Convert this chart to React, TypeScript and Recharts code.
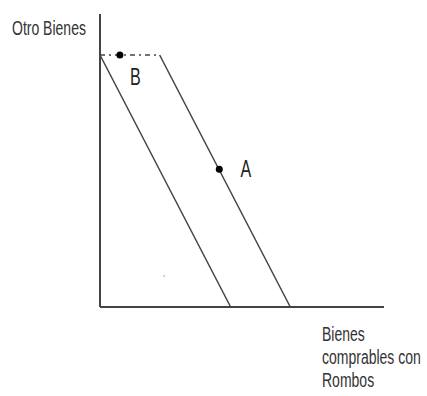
import { ComposedChart, Line, Scatter, XAxis, YAxis, LabelList, ReferenceLine } from "recharts";

// budget line before (B) and after (A) the shift, in "units" of each good
const lineLeft = [
    { x: 0, y: 86 },
    { x: 46, y: 0 },
];
const lineRight = [
    { x: 21, y: 86 },
    { x: 67, y: 0 },
];
const capLine = [
    { x: 0, y: 86 },
    { x: 21, y: 86 },
];
const points = [
    { x: 7, y: 86, name: "B" },
    { x: 42, y: 47, name: "A" },
];
const speck = [{ x: 22.6, y: 10.6 }];

const yTitle = "Otro Bienes";
const xTitle = ["Bienes", "comprables con", "Rombos"];

// the original uses a very narrow face; squeeze Liberation Sans to get close
const font = "'Liberation Sans', Arial, sans-serif";
const squeeze = 0.7;
const ink = "#444";

export default function App() {
    const titleStyle = {
        position: "absolute" as const,
        fontSize: 20,
        lineHeight: "23px",
        color: "#333",
        whiteSpace: "nowrap" as const,
        transform: `scaleX(${squeeze})`,
        transformOrigin: "left top",
    };
    return (
        <div style={{ position: "absolute", left: 0, top: 0, width: 427, height: 396, background: "#fff", fontFamily: font }}>
            <ComposedChart width={427} height={396} margin={{ top: 14, right: 43, bottom: 89, left: 100 }}>
                <XAxis type="number" dataKey="x" domain={[0, 100]} hide allowDuplicatedCategory={false} />
                <YAxis type="number" dataKey="y" domain={[0, 100]} hide />
                <ReferenceLine x={0} stroke={ink} strokeWidth={2} />
                <ReferenceLine y={0} stroke={ink} strokeWidth={2} />
                <Line data={lineLeft} dataKey="y" stroke={ink} strokeWidth={1.5} dot={false} isAnimationActive={false} />
                <Line data={lineRight} dataKey="y" stroke={ink} strokeWidth={1.5} dot={false} isAnimationActive={false} />
                <Line data={capLine} dataKey="y" stroke={ink} strokeWidth={1.5} strokeDasharray="5 4 2 4" dot={false} isAnimationActive={false} />
                <Scatter data={speck} fill="#999" shape={(p: any) => <circle cx={p.cx} cy={p.cy} r={0.8} fill="#999" />} isAnimationActive={false} />
                <Scatter data={points} fill="#000" shape={(p: any) => <circle cx={p.cx} cy={p.cy} r={3.5} fill="#000" />} isAnimationActive={false}>
                    <LabelList dataKey="name" content={(p: any) => {
                        const isB = p.value === "B";
                        const tx = p.x + (isB ? 20 : 31);
                        const ty = p.y + (isB ? 34 : 12);
                        return (
                            <text transform={`translate(${tx},${ty}) scale(${squeeze},1)`} textAnchor="middle"
                                fontFamily={font} fontSize={23} fill="#222">{p.value}</text>
                        );
                    }} />
                </Scatter>
            </ComposedChart>
            <div style={{ ...titleStyle, left: 12, top: 17 }}>{yTitle}</div>
            <div style={{ ...titleStyle, left: 322, top: 323 }}>
                {xTitle.map((t) => <div key={t}>{t}</div>)}
            </div>
        </div>
    );
}
